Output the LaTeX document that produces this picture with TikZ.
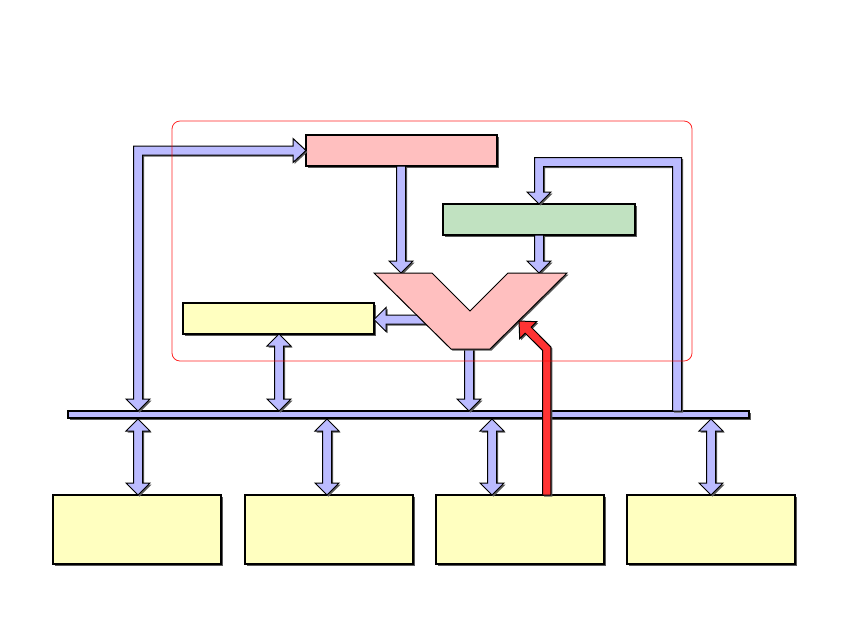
\documentclass[tikz,border=0pt]{standalone}
\usetikzlibrary{shadows}
\definecolor{lav}{RGB}{187,187,255}
\definecolor{pinkb}{RGB}{255,191,191}
\definecolor{greenb}{RGB}{193,226,193}
\definecolor{yellowb}{RGB}{255,255,192}
\definecolor{redarr}{RGB}{255,51,51}
\newcommand\blkdown[3]{\draw[blk] ({#1-4.5},#2) -- ({#1-4.5},{#3-12}) -- ({#1-12},{#3-12}) -- (#1,#3) -- ({#1+12},{#3-12}) -- ({#1+4.5},{#3-12}) -- ({#1+4.5},#2) -- cycle;}
\newcommand\blkboth[3]{\draw[blk] (#1,#2) -- ({#1+12},{#2+12}) -- ({#1+4.5},{#2+12}) -- ({#1+4.5},{#3-12}) -- ({#1+12},{#3-12}) -- (#1,#3) -- ({#1-12},{#3-12}) -- ({#1-4.5},{#3-12}) -- ({#1-4.5},{#2+12}) -- ({#1-12},{#2+12}) -- cycle;}
\begin{document}
\begin{tikzpicture}[x=1pt,y=-1pt,
  shad/.style={drop shadow={shadow xshift=1.5pt,shadow yshift=-1.5pt,fill=black!65,opacity=1}},
  box/.style={draw=black,line width=1.2pt,inner sep=0pt,outer sep=0pt,anchor=north west,shad},
  blk/.style={draw=black,line width=1pt,fill=lav,line join=miter,shad},
  ybox/.style={box,fill=yellowb,minimum width=168pt,minimum height=69pt}]
\useasboundingbox[fill=white] (0,0) rectangle (850,638);
% boxes
\node[box,fill=pinkb,minimum width=191pt,minimum height=31pt] (regs) at (306,135) {};
\node[box,fill=greenb,minimum width=192pt,minimum height=31pt] (ctrl) at (443,204) {};
\node[box,fill=yellowb,minimum width=191pt,minimum height=31pt] (acc) at (183,303) {};
\node[box,fill=lav,minimum width=681pt,minimum height=7pt] (bus) at (68,411) {};
\node[ybox] (b1) at (53,495) {};
\node[ybox] (b2) at (245,495) {};
\node[ybox] (b3) at (436,495) {};
\node[ybox] (b4) at (627,495) {};
% arrows
\blkdown{401}{166}{273}
\blkdown{539}{235}{273}
\blkdown{469}{340}{411}
\blkboth{279}{334}{411}
\blkboth{138}{419}{495}
\blkboth{327}{419}{495}
\blkboth{492}{419}{495}
\blkboth{711}{419}{495}
\draw[blk] (430,315) -- (386,315) -- (386,307.5) -- (374,319.5) -- (386,331.5) -- (386,324) -- (430,324) -- cycle;
% left elbow
\draw[blk] (138,411) -- (150,399) -- (142.5,399) -- (142.5,155) -- (293,155) -- (293,162.5) -- (306,150.5) -- (293,138.5) -- (293,146) -- (133.5,146) -- (133.5,399) -- (126,399) -- cycle;
% right elbow
\draw[blk] (672.5,411) -- (672.5,166.5) -- (543.5,166.5) -- (543.5,192) -- (551,192) -- (539,204) -- (527,192) -- (534.5,192) -- (534.5,157.5) -- (681.5,157.5) -- (681.5,411) -- cycle;
% ALU
\coordinate (alu) at (470,311);
\draw[draw=black,line width=1pt,fill=pinkb,line join=miter,shad]
  (374,273) -- (432,273) -- (alu) -- (508,273) -- (567,273) -- (490,349) -- (451,349) -- cycle;
% red arrow
\draw[blk,fill=redarr] (542.5,495) -- (542.5,350.4) -- (525.2,333.2) -- (519.7,338.7) -- (519,321) -- (536.7,321.7) -- (531.2,327.2) -- (550.9,347) -- (550.9,495) -- cycle;
% CPU outline
\draw[red,line width=0.8pt,opacity=0.85,rounded corners=8pt] (172,121) rectangle (692,361);
\end{tikzpicture}
\end{document}
